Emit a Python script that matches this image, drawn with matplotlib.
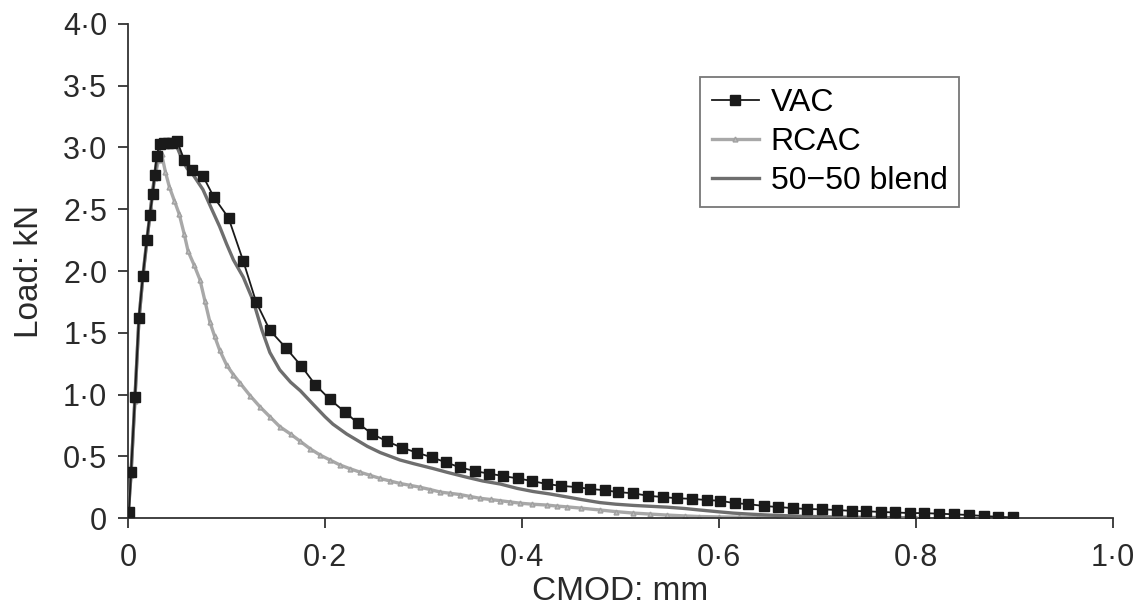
import matplotlib
matplotlib.use('Agg')
import matplotlib.pyplot as plt
from matplotlib.ticker import FuncFormatter

plt.rcParams['font.family'] = ['Liberation Sans', 'DejaVu Sans']

# CMOD (mm) / load (kN)
vac_x = [0.001, 0.003, 0.007, 0.011, 0.015, 0.019, 0.022, 0.025, 0.027, 0.029,
         0.032, 0.037, 0.041, 0.045, 0.050, 0.057, 0.065, 0.076, 0.087, 0.102,
         0.117, 0.130, 0.144, 0.160, 0.176, 0.190, 0.205, 0.220, 0.233, 0.248,
         0.263, 0.278, 0.293, 0.309, 0.323, 0.337, 0.352, 0.366, 0.381, 0.396,
         0.410, 0.425, 0.440, 0.456, 0.469, 0.484, 0.497, 0.513, 0.528, 0.543,
         0.557, 0.573, 0.588, 0.601, 0.616, 0.629, 0.646, 0.660, 0.675, 0.689,
         0.705, 0.720, 0.735, 0.749, 0.764, 0.779, 0.794, 0.808, 0.823, 0.839,
         0.854, 0.869, 0.883, 0.898]
vac_y = [0.05, 0.37, 0.98, 1.62, 1.96, 2.25, 2.45, 2.62, 2.78, 2.93,
         3.03, 3.04, 3.04, 3.04, 3.05, 2.90, 2.82, 2.77, 2.60, 2.43,
         2.08, 1.75, 1.52, 1.38, 1.23, 1.08, 0.96, 0.86, 0.77, 0.68,
         0.62, 0.57, 0.53, 0.49, 0.45, 0.41, 0.38, 0.36, 0.34, 0.32,
         0.30, 0.275, 0.26, 0.25, 0.235, 0.225, 0.21, 0.20, 0.18, 0.17,
         0.16, 0.155, 0.145, 0.14, 0.12, 0.113, 0.097, 0.089, 0.08, 0.073,
         0.07, 0.065, 0.057, 0.055, 0.049, 0.045, 0.04, 0.04, 0.035, 0.03,
         0.024, 0.016, 0.01, 0.005]

rcac_x = [0.000, 0.003, 0.007, 0.011, 0.015, 0.019, 0.023, 0.027, 0.031, 0.034,
          0.038, 0.042, 0.047, 0.052, 0.057, 0.061, 0.067, 0.073, 0.078, 0.083,
          0.088, 0.093, 0.100, 0.107, 0.114, 0.124, 0.134, 0.144, 0.154, 0.165,
          0.175, 0.185, 0.195, 0.205, 0.215, 0.225, 0.236, 0.246, 0.256, 0.266,
          0.276, 0.286, 0.296, 0.307, 0.317, 0.327, 0.337, 0.347, 0.357, 0.368,
          0.378, 0.388, 0.398, 0.410, 0.425, 0.435, 0.446, 0.460, 0.479, 0.495,
          0.513, 0.530, 0.547, 0.565, 0.580, 0.600, 0.620, 0.640, 0.660, 0.680,
          0.700, 0.720, 0.740, 0.760, 0.780]
rcac_y = [0.03, 0.35, 0.95, 1.60, 1.95, 2.25, 2.50, 2.75, 2.90, 2.95,
          2.80, 2.68, 2.57, 2.46, 2.30, 2.16, 2.05, 1.93, 1.76, 1.59,
          1.47, 1.36, 1.24, 1.16, 1.09, 0.99, 0.90, 0.82, 0.74, 0.68,
          0.62, 0.56, 0.51, 0.47, 0.43, 0.40, 0.37, 0.345, 0.32, 0.30,
          0.28, 0.265, 0.25, 0.23, 0.21, 0.20, 0.19, 0.175, 0.16, 0.15,
          0.14, 0.13, 0.12, 0.112, 0.105, 0.097, 0.09, 0.08, 0.065, 0.052,
          0.04, 0.032, 0.024, 0.017, 0.012, 0.009, 0.007, 0.005, 0.004, 0.003,
          0.002, 0.002, 0.001, 0.001, 0.0]

blend_x = [0.000, 0.003, 0.007, 0.011, 0.015, 0.020, 0.025, 0.030, 0.035, 0.040,
           0.045, 0.050, 0.055, 0.060, 0.066, 0.076, 0.085, 0.093, 0.100, 0.107,
           0.117, 0.127, 0.136, 0.144, 0.154, 0.165, 0.175, 0.188, 0.200, 0.208,
           0.222, 0.243, 0.256, 0.276, 0.290, 0.310, 0.324, 0.344, 0.360, 0.378,
           0.395, 0.411, 0.428, 0.446, 0.460, 0.479, 0.495, 0.513, 0.530, 0.547,
           0.565, 0.580, 0.600, 0.614, 0.630, 0.650, 0.680, 0.720, 0.760, 0.800]
blend_y = [0.0, 0.35, 0.97, 1.60, 1.95, 2.30, 2.65, 2.95, 3.03, 3.05,
           3.05, 3.00, 2.90, 2.83, 2.78, 2.66, 2.50, 2.36, 2.22, 2.09,
           1.95, 1.76, 1.52, 1.34, 1.20, 1.10, 1.03, 0.92, 0.82, 0.76,
           0.68, 0.58, 0.53, 0.47, 0.44, 0.40, 0.37, 0.33, 0.30, 0.275,
           0.24, 0.215, 0.195, 0.17, 0.15, 0.125, 0.112, 0.102, 0.095, 0.088,
           0.077, 0.065, 0.05, 0.04, 0.032, 0.024, 0.015, 0.008, 0.004, 0.0]

fig = plt.figure(figsize=(11.38, 6.09), dpi=100)
ax = fig.add_axes([0.1125, 0.1494, 0.8656, 0.8112])

ax.plot(rcac_x, rcac_y, color='#a8a8a8', lw=2.4, marker='^', ms=3.5,
        mfc='#bdbdbd', mec='#a0a0a0', label='RCAC', zorder=2)
ax.plot(blend_x, blend_y, color='#6e6e6e', lw=2.4, label='50\u221250 blend', zorder=3)
ax.plot(vac_x, vac_y, color='#1a1a1a', lw=1.3, marker='s', ms=7,
        mfc='#1a1a1a', mec='#1a1a1a', label='VAC', zorder=4)

ax.set_xlim(0, 1.0)
ax.set_ylim(0, 4.0)
ax.set_xticks([0, 0.2, 0.4, 0.6, 0.8, 1.0])
ax.set_yticks([0, 0.5, 1.0, 1.5, 2.0, 2.5, 3.0, 3.5, 4.0])

fmt = FuncFormatter(lambda v, p: '0' if v == 0 else ('%.1f' % v).replace('.', '\u00b7'))
ax.xaxis.set_major_formatter(fmt)
ax.yaxis.set_major_formatter(fmt)

for s in ['top', 'right']:
    ax.spines[s].set_visible(False)
for s in ['left', 'bottom']:
    ax.spines[s].set_color('#333333')
    ax.spines[s].set_linewidth(1.3)
ax.tick_params(direction='out', length=7, width=1.3, color='#333333',
               labelsize=22, labelcolor='#2a2a2a')
ax.tick_params(axis='x', pad=11)
ax.tick_params(axis='y', pad=8)

ax.set_xlabel('CMOD: mm', fontsize=24, color='#2a2a2a', labelpad=2)
ax.set_ylabel('Load: kN', fontsize=24, color='#2a2a2a', labelpad=13)

h, l = ax.get_legend_handles_labels()
order = [2, 0, 1]
leg = ax.legend([h[i] for i in order], [l[i] for i in order],
                loc='upper left', bbox_to_anchor=(0.581, 0.893),
                fontsize=23, frameon=True, fancybox=False, handlelength=1.5,
                handletextpad=0.35, borderpad=0.35, labelspacing=0.28,
                borderaxespad=0)
leg.get_frame().set_edgecolor('#555555')
leg.get_frame().set_linewidth(1.3)

fig.savefig('out.png', dpi=100)
